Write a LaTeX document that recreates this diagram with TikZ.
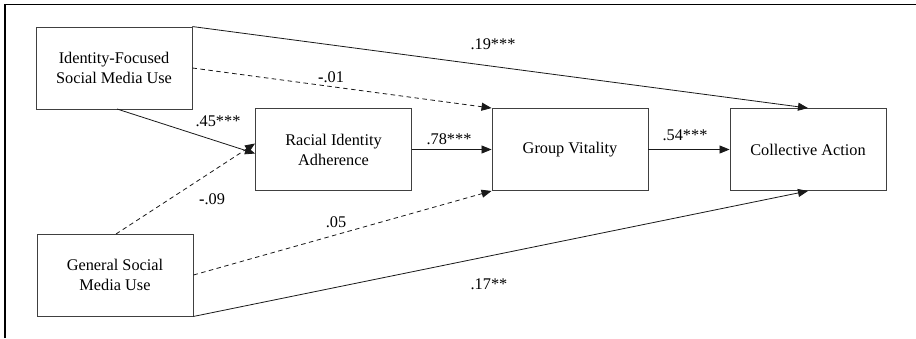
\documentclass[tikz,border=0pt]{standalone}
\usepackage{fontspec}
\setmainfont{Liberation Serif}
\newfontfamily\tnrfont{Liberation Serif}
\usetikzlibrary{arrows.meta}
\begin{document}
\begin{tikzpicture}[x=1pt,y=-1pt,
  box/.style={draw=black!75,line width=0.9pt,minimum width=156pt,minimum height=82pt,inner sep=0pt,align=center,font=\tnrfont\fontsize{16.3}{20}\selectfont},
  lbl/.style={font=\tnrfont\fontsize{16.3}{20}\selectfont,inner sep=0pt},
  conn/.style={draw=black!90,line width=0.8pt,-{Triangle[length=10pt,width=8pt]}},
  dconn/.style={conn,dash pattern=on 4.5pt off 3.5pt}]
\useasboundingbox (0,0) rectangle (916,338);
\fill[white] (0,0) rectangle (916,338);
\draw[line width=1.5pt] (5,338) -- (5,4.5) -- (916,4.5);
\node[box] (if) at (114,68) {Identity-Focused\\Social Media Use};
\node[box] (ria) at (333.5,149.5) {Racial Identity\\Adherence};
\node[box] (gsm) at (115,275) {General Social\\Media Use};
\node[box] (gv) at (570,149.5) {Group Vitality};
\node[box] (ca) at (808,149.5) {Collective Action};
\coordinate (ifS) at (117,109);
\coordinate (gsmN) at (116,234);
\draw[conn] (if.north east) -- (ca.north);
\draw[dconn] (if.east) -- (gv.north west);
\draw[conn] (ifS) -- ([yshift=-4pt]ria.west);
\draw[dconn] (gsmN) -- ([yshift=6pt]ria.west);
\draw[conn] (ria.east) -- (gv.west);
\draw[conn] (gv.east) -- (ca.west);
\draw[dconn] (gsm.east) -- (gv.south west);
\draw[conn] (gsm.south east) -- (ca.south);
\node[lbl] (l19) at (493,44) {.19***};
\node[lbl] (l01) at (331,77) {\textbf{-}.01};
\node[lbl] (l45) at (218,121) {.45***};
\node[lbl] (l09) at (212,199) {\textbf{-}.09};
\node[lbl] (l78) at (449,139) {.78***};
\node[lbl] (l54) at (685,135) {.54***};
\node[lbl] (l05) at (336,222) {.05};
\node[lbl] (l17) at (489,284) {.17**};
\end{tikzpicture}
\end{document}
